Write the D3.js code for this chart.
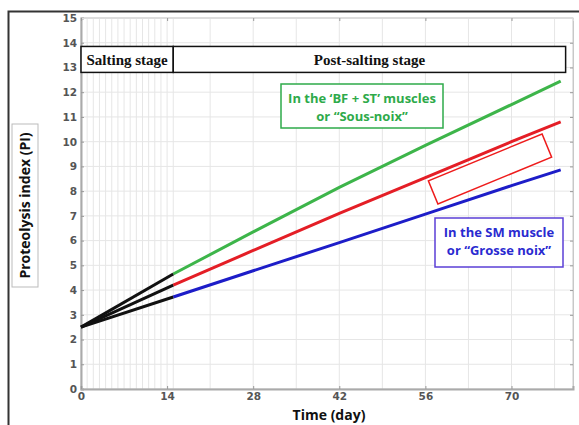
<!DOCTYPE html>
<html lang="en">
<head>
<meta charset="utf-8">
<title>Proteolysis index</title>
<script src="https://cdn.jsdelivr.net/npm/d3@7"></script>
<style>
  body { margin: 0; background: #fff; }
  .tick-label { font: bold 10.5px "DejaVu Sans", sans-serif; fill: #555; }
  .stage { font: bold 15px "Liberation Serif", serif; fill: #111; }
  .note { font: bold 13px "Open Sans", sans-serif; }
  .axis-title { font: bold 14px "Open Sans", sans-serif; fill: #111; }
</style>
</head>
<body>
<script>
// days
var days = [0, 15, 28, 42, 56, 70, 78];
// proteolysis index per muscle group
var sousNoix = [2.5, 4.65, 6.35, 8.15, 9.85, 11.5, 12.45];
var middle = [2.5, 4.2, 5.6, 7.1, 8.55, 10.0, 10.8];
var grosseNoix = [2.5, 3.72, 4.78, 5.92, 7.07, 8.22, 8.86];
var xTicks = [0, 14, 28, 42, 56, 70];
var yTicks = d3.range(0, 16);
var saltingEnd = 15;

var W = 579, H = 425;
var svg = d3.select("body").append("svg").attr("width", W).attr("height", H);

var x = d3.scaleLinear().domain([0, 80]).range([81, 573]);
var y = d3.scaleLinear().domain([0, 15]).range([389, 18]);

// outer frame (top and left edges only visible)
svg.append("path")
   .attr("d", "M8.5," + H + "V11.5H" + W)
   .attr("fill", "none").attr("stroke", "#333").attr("stroke-width", 2);

// grid
var vgrid = d3.range(1, saltingEnd + 1).concat(d3.range(21, 80, 7));
svg.append("g").selectAll("line").data(vgrid).enter().append("line")
   .attr("x1", function(d){ return x(d); }).attr("x2", function(d){ return x(d); })
   .attr("y1", y(0)).attr("y2", y(15))
   .attr("stroke", "#e6e6e6").attr("stroke-width", 1);
svg.append("g").selectAll("line").data(yTicks.slice(1)).enter().append("line")
   .attr("x1", x(0)).attr("x2", x(80))
   .attr("y1", function(d){ return y(d); }).attr("y2", function(d){ return y(d); })
   .attr("stroke", "#e6e6e6").attr("stroke-width", 1);

// frame of the plot
svg.append("rect").attr("x", x(0)).attr("y", y(15))
   .attr("width", x(80) - x(0)).attr("height", y(0) - y(15))
   .attr("fill", "none").attr("stroke", "#c8c8c8").attr("stroke-width", 1);

// axes
var yAxis = svg.append("g").attr("transform", "translate(" + x(0) + ",0)")
   .call(d3.axisLeft(y).tickValues(yTicks).tickSize(-3).tickPadding(4));
var yAxisR = svg.append("g").attr("transform", "translate(" + x(80) + ",0)")
   .call(d3.axisRight(y).tickValues(yTicks).tickSize(-3).tickFormat(""));
var xAxis = svg.append("g").attr("transform", "translate(0," + y(0) + ")")
   .call(d3.axisBottom(x).tickValues(xTicks).tickSize(-3).tickPadding(4));
var xAxisT = svg.append("g").attr("transform", "translate(0," + y(15) + ")")
   .call(d3.axisTop(x).tickValues(xTicks).tickSize(-3).tickFormat(""));
[yAxis, yAxisR, xAxis, xAxisT].forEach(function(a){
  a.select(".domain").attr("stroke", "#aaa").attr("stroke-width", 1.5);
  a.selectAll(".tick line").attr("stroke", "#999");
  a.selectAll("text").attr("class", "tick-label");
});
yAxisR.select(".domain").attr("stroke", "#c8c8c8").attr("stroke-width", 1);
xAxisT.select(".domain").attr("stroke", "#ddd").attr("stroke-width", 1);
xAxis.select(".domain").attr("stroke", "#aaa").attr("stroke-width", 2);
yAxis.select(".domain").attr("stroke", "#aaa").attr("stroke-width", 2);

// stage boxes
var stages = [{ name: "Salting stage", a: 0, b: saltingEnd },
              { name: "Post-salting stage", a: saltingEnd, b: 78.8 }];
var st = svg.append("g").selectAll("g").data(stages).enter().append("g");
st.append("rect")
  .attr("x", function(d){ return x(d.a); }).attr("y", y(13.85))
  .attr("width", function(d){ return x(d.b) - x(d.a); }).attr("height", y(12.8) - y(13.85))
  .attr("fill", "#fff").attr("stroke", "#111").attr("stroke-width", 1.5);
st.append("text").attr("class", "stage")
  .attr("x", function(d){ return (x(d.a) + x(d.b)) / 2; }).attr("y", y(13.08))
  .attr("text-anchor", "middle").text(function(d){ return d.name; });

// curves: black during salting, coloured after
var series = [{ v: sousNoix, c: "#3db54a" }, { v: middle, c: "#e41e26" }, { v: grosseNoix, c: "#1d1dc8" }];
var line = d3.line().x(function(d){ return x(d[0]); }).y(function(d){ return y(d[1]); });
series.forEach(function(s){
  var pts = days.map(function(d, i){ return [d, s.v[i]]; });
  svg.append("path").attr("d", line(pts.slice(1)))
     .attr("fill", "none").attr("stroke", s.c).attr("stroke-width", 3);
});
series.forEach(function(s){
  var pts = days.map(function(d, i){ return [d, s.v[i]]; });
  svg.append("path").attr("d", line(pts.slice(0, 2)))
     .attr("fill", "none").attr("stroke", "#111").attr("stroke-width", 3);
});

// red outlined blank box over the red curve
svg.append("rect").attr("x", -61.5).attr("y", -12.5).attr("width", 123).attr("height", 25)
   .attr("transform", "translate(490,169) rotate(-22.4)")
   .attr("fill", "#fff").attr("stroke", "#ee1c1c").attr("stroke-width", 1.5);

// annotation boxes
function note(x0, y0, w, h, color, border, lines){
  svg.append("rect").attr("x", x0).attr("y", y0).attr("width", w).attr("height", h)
     .attr("fill", "#fff").attr("stroke", border).attr("stroke-width", 1.5);
  lines.forEach(function(t, i){
    svg.append("text").attr("class", "note").attr("fill", color)
       .attr("x", x0 + w / 2).attr("y", y0 + 19 + i * 18)
       .attr("text-anchor", "middle").text(t);
  });
}
note(281, 84, 162, 44, "#2eaa4a", "#2eaa4a", ["In the \u2018BF + ST\u2019 muscles", "or \u201cSous-noix\u201d"]);
note(435, 218, 128, 49, "#2a2ad0", "#5b3fd6", ["In the SM muscle", "or \u201cGrosse noix\u201d"]);

// axis titles
svg.append("rect").attr("x", 12).attr("y", 124).attr("width", 26).attr("height", 163)
   .attr("fill", "#fff").attr("stroke", "#bbb").attr("stroke-width", 1);
svg.append("text").attr("class", "axis-title")
   .attr("transform", "translate(30,205.5) rotate(-90)")
   .attr("text-anchor", "middle").text("Proteolysis index (PI)");
svg.append("text").attr("class", "axis-title")
   .attr("x", 329).attr("y", 420).attr("text-anchor", "middle").text("Time (day)");
</script>
</body>
</html>
